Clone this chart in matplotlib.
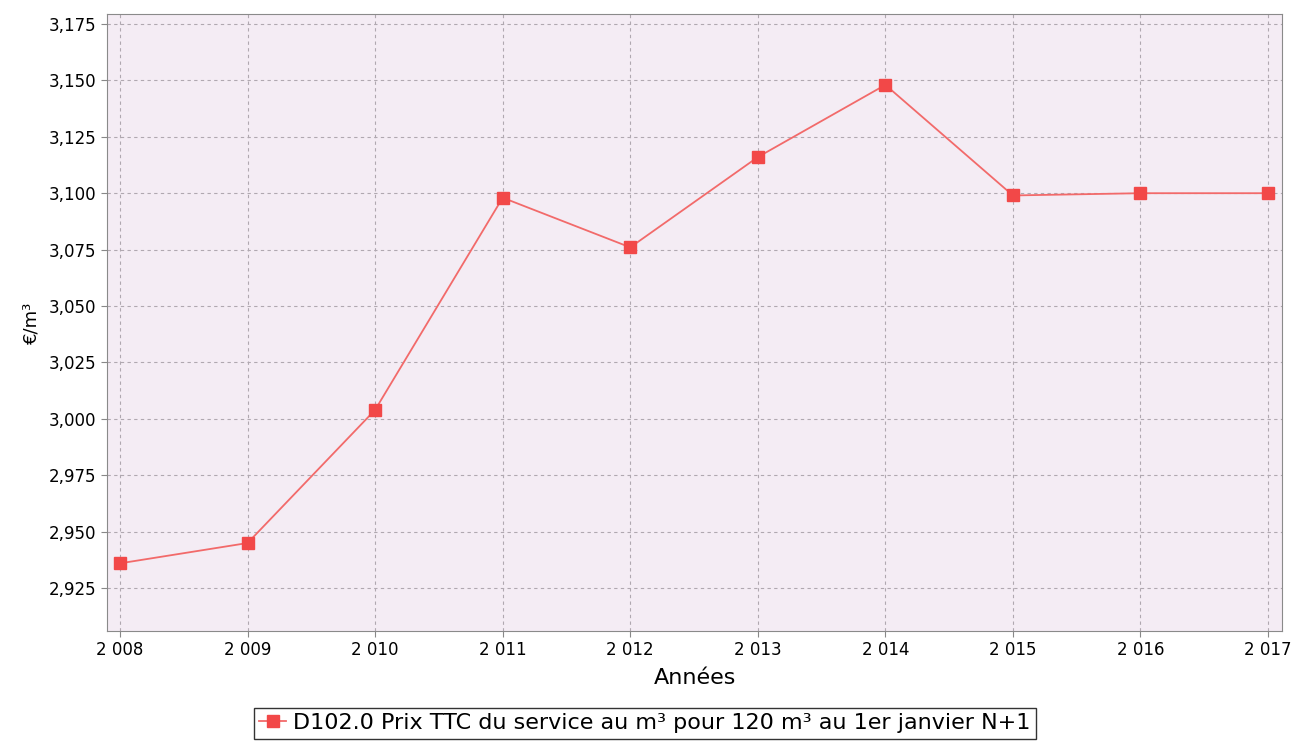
import matplotlib
matplotlib.use('Agg')
import matplotlib.pyplot as plt
from matplotlib.ticker import FuncFormatter, MultipleLocator

# data
years = [2008, 2009, 2010, 2011, 2012, 2013, 2014, 2015, 2016, 2017]
prix = [2.936, 2.945, 3.004, 3.098, 3.076, 3.116, 3.148, 3.099, 3.100, 3.100]
serie_label = 'D102.0 Prix TTC du service au m³ pour 120 m³ au 1er janvier N+1'

fig = plt.figure(figsize=(12.97, 7.41), dpi=100)
ax = fig.add_axes([0.0825, 0.1484, 0.906, 0.8327])
ax.set_facecolor('#f4ecf4')

ax.plot(years, prix, color='#f26a6a', linewidth=1.3, marker='s', markersize=8,
        markerfacecolor='#f24848', markeredgecolor='#f24848', label=serie_label)

ax.set_xlim(2007.898, 2017.11)
ax.set_ylim(2.906, 3.1794)
ax.set_xticks(years)
ax.yaxis.set_major_locator(MultipleLocator(0.025))
ax.xaxis.set_major_formatter(FuncFormatter(lambda v, p: '{:,}'.format(int(round(v))).replace(',', ' ')))
ax.yaxis.set_major_formatter(FuncFormatter(lambda v, p: '{:.3f}'.format(v).replace('.', ',')))

ax.grid(True, color='#b0a8b0', linestyle=(0, (3, 3)), linewidth=0.8)
ax.tick_params(labelsize=12, length=4, color='#888888')
for s in ax.spines.values():
    s.set_color('#8a8a8a')

ax.set_xlabel('Années', fontsize=16, labelpad=6)
ax.set_ylabel('€/m³', fontsize=13, labelpad=6)

leg = fig.legend(loc='lower center', bbox_to_anchor=(0.497, -0.012), fontsize=16,
                 frameon=True, fancybox=False, handlelength=1.2, handletextpad=0.3,
                 borderpad=0.25)
leg.get_frame().set_edgecolor('black')
leg.get_frame().set_linewidth(1.0)

fig.savefig('out.png', dpi=100)
